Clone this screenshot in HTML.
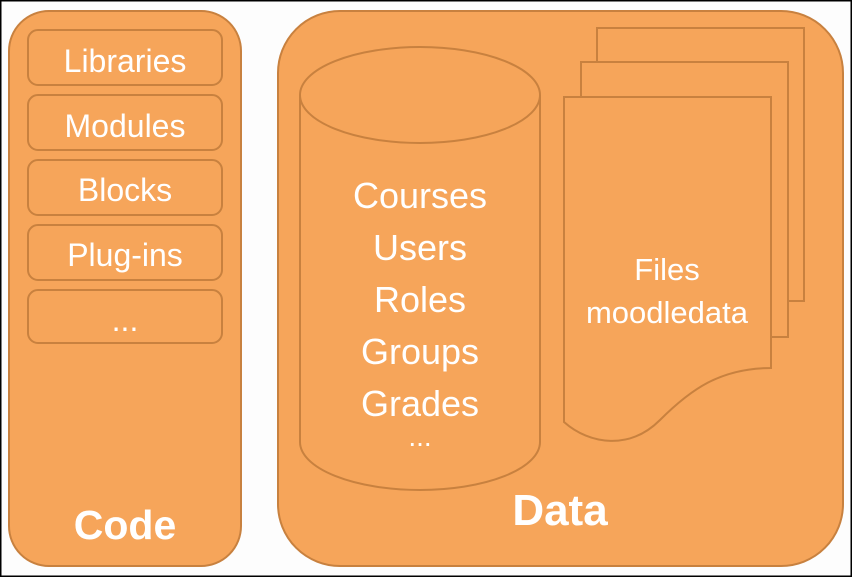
<!DOCTYPE html>
<html><head><style>
html,body{margin:0;padding:0;background:#fff;}
svg{display:block;}
text{font-family:"Liberation Sans",sans-serif;fill:#fff;}
</style></head><body>
<svg width="852" height="577" viewBox="0 0 852 577" xmlns="http://www.w3.org/2000/svg">
<rect x="0.5" y="0.5" width="851" height="576" fill="#fdfdfd" stroke="#000" stroke-width="2"/>
<g fill="#f6a55a" stroke="#c8813f" stroke-width="2">
<rect x="9" y="11" width="232" height="555" rx="40"/>
<rect x="28" y="30" width="194" height="55" rx="10"/>
<rect x="28" y="95" width="194" height="55" rx="10"/>
<rect x="28" y="160" width="194" height="55" rx="10"/>
<rect x="28" y="225" width="194" height="55" rx="10"/>
<rect x="28" y="290" width="194" height="53" rx="10"/>
<rect x="278" y="11" width="565" height="555" rx="62"/>
<path d="M300 95 L300 442 A120 48 0 0 0 540 442 L540 95"/>
<ellipse cx="420" cy="95" rx="120" ry="48"/>
<rect x="597" y="28" width="207" height="273"/>
<rect x="581" y="62" width="207" height="275"/>
<path d="M564 97 L771 97 L771 368 C720 368 690 390 660 420 C630 450 590 445 564 422 Z"/>
</g>
<g font-size="32" text-anchor="middle">
<text x="125" y="72">Libraries</text>
<text x="125" y="137">Modules</text>
<text x="125" y="201">Blocks</text>
<text x="125" y="266">Plug-ins</text>
<text x="125" y="331">...</text>
</g>
<g font-size="36" text-anchor="middle">
<text x="420" y="208">Courses</text>
<text x="420" y="260">Users</text>
<text x="420" y="312">Roles</text>
<text x="420" y="364">Groups</text>
<text x="420" y="416">Grades</text>
<text x="420" y="446" font-size="28">...</text>
</g>
<g font-size="31" text-anchor="middle">
<text x="667" y="280">Files</text>
<text x="667" y="323">moodledata</text>
</g>
<text x="125" y="539" font-size="41" font-weight="bold" text-anchor="middle">Code</text>
<text x="560" y="525" font-size="44" font-weight="bold" text-anchor="middle">Data</text>
</svg>
</body></html>
